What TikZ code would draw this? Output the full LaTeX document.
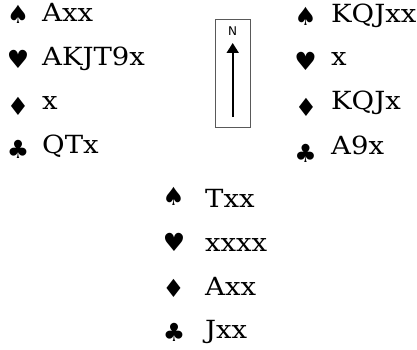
\documentclass[tikz,border=0pt]{standalone}
\usepackage{fontspec}
\setmainfont{DejaVu Serif}[FakeStretch=1.1]
\newfontfamily\suitfont{DejaVu Sans}
\newfontfamily\nfont{DejaVu Sans}
\usetikzlibrary{arrows.meta}
\begin{document}
\begin{tikzpicture}[x=1pt,y=-1pt,
  suit/.style={inner sep=0pt,font=\suitfont\fontsize{25}{25}\selectfont},
  holding/.style={inner sep=0pt,anchor=base west,font=\fontsize{25}{25}\selectfont},
  compass/.style={draw=black!65,line width=0.8pt,minimum width=35pt,minimum height=108pt,inner sep=0pt}]
\useasboundingbox (0,0) rectangle (417,350);
% West
\node[suit] (ws) at (18,14.5) {♠};
\node[suit] (wh) at (18,59) {♥};
\node[suit] (wd) at (18,106.5) {♦};
\node[suit] (wc) at (18,149) {♣};
\node[holding] (wst) at (42,22) {Axx};
\node[holding] (wht) at (42,65.5) {AKJT9x};
\node[holding] (wdt) at (42,110) {x};
\node[holding] (wct) at (42,153) {QTx};
% East
\node[suit] (es) at (305.5,16) {♠};
\node[suit] (eh) at (305.5,61.5) {♥};
\node[suit] (ed) at (306,107.5) {♦};
\node[suit] (ec) at (305.5,153) {♣};
\node[holding] (est) at (331,23) {KQJxx};
\node[holding] (eht) at (331,66) {x};
\node[holding] (edt) at (331,110) {KQJx};
\node[holding] (ect) at (331,154) {A9x};
% South
\node[suit] (ss) at (173.5,196) {♠};
\node[suit] (sh) at (174,242.5) {♥};
\node[suit] (sd) at (173.5,288.5) {♦};
\node[suit] (sc) at (174,332.5) {♣};
\node[holding] (sst) at (205,207) {Txx};
\node[holding] (sht) at (205,251) {xxxx};
\node[holding] (sdt) at (205,295) {Axx};
\node[holding] (sct) at (205,338) {Jxx};
% Compass
\node[compass] (box) at (232.5,73) {};
\node[inner sep=0pt,font=\nfont\fontsize{12}{12}\selectfont] (n) at (232.5,31) {N};
\coordinate (tail) at (232.7,117);
\coordinate (head) at (232.7,43);
\draw[line width=1.8pt,-{Triangle[width=12pt,length=10pt]}] (tail) -- (head);
\end{tikzpicture}
\end{document}
